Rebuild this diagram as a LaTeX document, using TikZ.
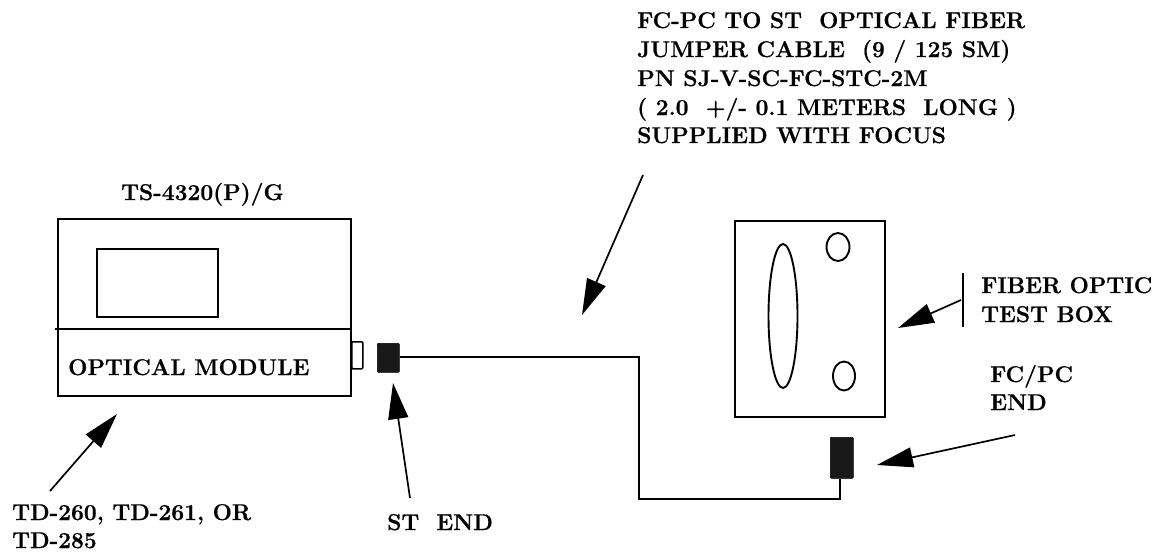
\documentclass[tikz,border=0pt]{standalone}
\usepackage{fontspec}
\newfontfamily\lblfont[BoldFeatures={FakeBold=0.7}]{Latin Modern Roman}
\usetikzlibrary{arrows.meta,shapes.geometric}
\tikzset{
  x=1pt,y=-1pt,
  box/.style={draw,line width=2pt,inner sep=0pt,minimum width=#1},
  lbl/.style={anchor=base west,inner sep=0pt,font=\lblfont\fontsize{22.8}{22.8}\selectfont\bfseries,align=left},
  thin line/.style={line width=1.9pt},
  pointer/.style={line width=1.7pt,-{Triangle[length=36pt,width=20pt]}},
  plug/.style={fill=black!90,draw=black,line width=.6pt,rounded corners=1pt,inner sep=0pt},
  hole/.style={ellipse,draw,line width=1.9pt,inner sep=0pt}
}
\begin{document}
\begin{tikzpicture}
\useasboundingbox (0,0) rectangle (1161,552);
% module
\node[box=293pt,minimum height=177pt,anchor=north west] (module) at (57,218) {};
\node[box=121pt,minimum height=68pt,anchor=north west] (screen) at (96,248) {};
\coordinate (divL) at (55,329);
\coordinate (divR) at (350,329);
\draw[thin line] (divL) -- (divR);
\node[box=11pt,minimum height=27pt,anchor=north west,line width=1.6pt,rounded corners=1pt] (port) at (351,341) {};
\node[plug,minimum width=22pt,minimum height=29pt,anchor=north west] (st) at (377,343) {};
% test box
\node[box=150pt,minimum height=196pt,anchor=north west] (testbox) at (734,220) {};
\node[hole,minimum width=29pt,minimum height=144pt] (slot) at (783,316) {};
\node[hole,minimum width=23pt,minimum height=28pt] (h1) at (838,247) {};
\node[hole,minimum width=22pt,minimum height=29pt] (h2) at (844,376) {};
\node[plug,minimum width=23pt,minimum height=41pt,anchor=north west] (fc) at (830,437) {};
% cable
\coordinate (c1) at (639,357);
\coordinate (c2) at (639,499);
\coordinate (c3) at (840,499);
\draw[thin line] (st.east |- c1) -- (c1) -- (c2) -- (c3) -- (c3 |- fc.south);
% labels
\node[lbl] (tOM) at (68,375) {OPTICAL MODULE};
\node[lbl] (tTS) at (121,200) {TS-4320(P)/G};
\node[lbl] (tTD) at (12,520) {TD-260, TD-261, OR};
\node[lbl] (tTD2) at (12,548) {TD-285};
\node[lbl] (tST) at (387,530) {ST\ \ END};
\node[lbl] (t1) at (637,28) {FC-PC TO ST\ \ OPTICAL FIBER};
\node[lbl] (t2) at (637,57) {JUMPER CABLE\ \ (9 / 125 SM)};
\node[lbl] (t3) at (637,86) {PN SJ-V-SC-FC-STC-2M};
\node[lbl] (t4) at (637,115) {( 2.0\ \ +/- 0.1 METERS\ \ LONG )};
\node[lbl] (t5) at (637,143) {SUPPLIED WITH FOCUS};
\node[lbl] (tF1) at (981,293) {FIBER OPTIC};
\node[lbl] (tF2) at (981,322) {TEST BOX};
\node[lbl] (tE1) at (990,382) {FC/PC};
\node[lbl] (tE2) at (990,410) {END};
% pointers
\coordinate (a1s) at (50,491); \coordinate (a1e) at (117,414);
\coordinate (a2s) at (410,498); \coordinate (a2e) at (393,383);
\coordinate (a3s) at (643,175); \coordinate (a3e) at (582,315);
\coordinate (a4s) at (961,300); \coordinate (a4e) at (898,328);
\coordinate (a5s) at (1015,435); \coordinate (a5e) at (877,465);
\coordinate (b1) at (963,273); \coordinate (b2) at (963,327);
\draw[pointer] (a1s) -- (a1e);
\draw[pointer] (a2s) -- (a2e);
\draw[pointer] (a3s) -- (a3e);
\draw[pointer] (a4s) -- (a4e);
\draw[pointer] (a5s) -- (a5e);
\draw[thin line] (b1) -- (b2);
\end{tikzpicture}
\end{document}
